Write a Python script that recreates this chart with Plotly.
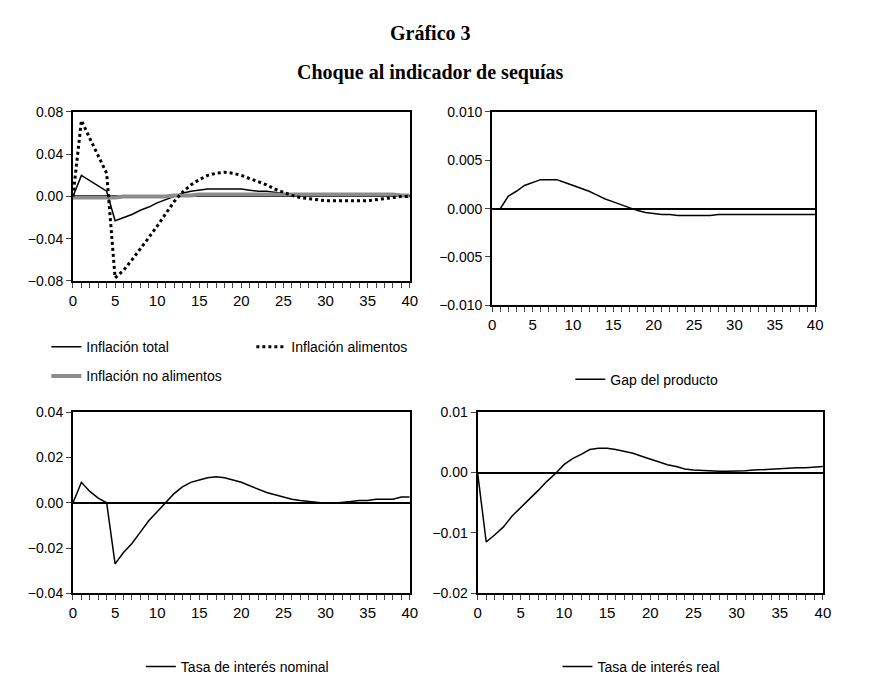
import plotly.graph_objects as go

periods = list(range(41))
infl_total = [0, 0.020, 0.015, 0.010, 0.005, -0.023, -0.020, -0.017, -0.013, -0.010, -0.006, -0.003, 0.000, 0.003, 0.005,
              0.006, 0.007, 0.007, 0.007, 0.007, 0.007, 0.006, 0.005, 0.005, 0.004, 0.003, 0.002, 0.002, 0.001, 0.001,
              0.001, 0.001, 0.001, 0.001, 0.001, 0.001, 0.001, 0.001, 0.001, 0.001, 0.001]
infl_alimentos = [0, 0.072, 0.055, 0.038, 0.022, -0.077, -0.070, -0.060, -0.050, -0.039, -0.028, -0.017, -0.005, 0.004,
                  0.011, 0.016, 0.020, 0.022, 0.023, 0.022, 0.020, 0.017, 0.014, 0.011, 0.007, 0.004, 0.001, -0.001,
                  -0.002, -0.003, -0.004, -0.004, -0.004, -0.004, -0.004, -0.004, -0.003, -0.002, -0.001, 0.000, 0.000]
infl_no_alimentos = [-0.001] * 6 + [0.0] * 6 + [0.001] * 3 + [0.002] * 24 + [0.001] * 2
gap_producto = [0, 0, 0.0013, 0.0018, 0.0024, 0.0027, 0.0030, 0.0030, 0.0030, 0.0027, 0.0024, 0.0021, 0.0018, 0.0014,
                0.0010, 0.0007, 0.0004, 0.0001, -0.0002, -0.0004, -0.0005, -0.0006, -0.0006, -0.0007, -0.0007, -0.0007,
                -0.0007, -0.0007, -0.0006, -0.0006, -0.0006, -0.0006, -0.0006, -0.0006, -0.0006, -0.0006, -0.0006,
                -0.0006, -0.0006, -0.0006, -0.0006]
tasa_nominal = [0, 0.009, 0.005, 0.002, 0.000, -0.027, -0.022, -0.018, -0.013, -0.008, -0.004, 0.000, 0.004, 0.007,
                0.009, 0.010, 0.011, 0.0115, 0.011, 0.010, 0.009, 0.0075, 0.006, 0.0045, 0.0035, 0.0025, 0.0015, 0.001,
                0.0005, 0.0, -0.0002, -0.0002, 0.0, 0.0005, 0.001, 0.001, 0.0015, 0.0015, 0.0015, 0.0025, 0.0025]
tasa_real = [0, -0.0115, -0.0103, -0.0090, -0.0072, -0.0058, -0.0045, -0.0030, -0.0015, -0.0002, 0.0013, 0.0023,
             0.0030, 0.0038, 0.0040, 0.0040, 0.0038, 0.0035, 0.0032, 0.0027, 0.0022, 0.0018, 0.0013, 0.0010, 0.0006,
             0.0004, 0.0003, 0.0002, 0.0002, 0.0002, 0.0002, 0.0003, 0.0004, 0.0005, 0.0006, 0.0007, 0.0007, 0.0008,
             0.0008, 0.0009, 0.0010]
x_ticktext = [str(i) if i % 5 == 0 else "" for i in periods]

FONT = "Liberation Sans"
fig = go.Figure()

panels = [  # (xaxis, yaxis, xdomain, ydomain, yrange, dtick, fmt)
    ("x", "y", [0.071, 0.463], [0.608, 0.858], [-0.08, 0.08], 0.04, ".2f"),
    ("x2", "y2", [0.559, 0.935], [0.572, 0.858], [-0.01, 0.01], 0.005, ".3f"),
    ("x3", "y3", [0.071, 0.463], [0.146, 0.414], [-0.04, 0.04], 0.02, ".2f"),
    ("x4", "y4", [0.542, 0.944], [0.146, 0.414], [-0.02, 0.01], 0.01, ".2f"),
]
series = [
    (infl_total, "Inflación total", 0, dict(color="black", width=1.5), "legend"),
    (infl_no_alimentos, "Inflación no alimentos", 0, dict(color="#8c8c8c", width=4), "legend5"),
    (infl_alimentos, "Inflación alimentos", 0, dict(color="black", width=3, dash="dot"), "legend"),
    (gap_producto, "Gap del producto", 1, dict(color="black", width=1.5), "legend2"),
    (tasa_nominal, "Tasa de interés nominal", 2, dict(color="black", width=1.5), "legend3"),
    (tasa_real, "Tasa de interés real", 3, dict(color="black", width=1.5), "legend4"),
]
for values, name, p, line, leg in series:
    fig.add_trace(go.Scatter(x=periods, y=values, name=name, mode="lines", line=line,
                             xaxis=panels[p][0], yaxis=panels[p][1], legend=leg))

for i, (xa, ya, xd, yd, yr, dt, fmt) in enumerate(panels):
    sfx = "" if i == 0 else str(i + 1)
    fig.layout["xaxis" + sfx] = dict(domain=xd, range=[0, 40], anchor=ya, tickvals=periods, ticktext=x_ticktext,
                                     ticks="outside", ticklen=5, showgrid=False, zeroline=False,
                                     tickfont=dict(size=15),
                                     showline=True, mirror=True, linecolor="black", linewidth=2)
    fig.layout["yaxis" + sfx] = dict(domain=yd, range=yr, dtick=dt, tickformat=fmt, anchor=xa,
                                     ticks="outside", ticklen=5, showgrid=False, zeroline=True,
                                     zerolinecolor="black", zerolinewidth=1.5, tickfont=dict(size=14),
                                     showline=True, mirror=True, linecolor="black", linewidth=2)

leg_style = dict(orientation="h", bgcolor="rgba(0,0,0,0)", font=dict(size=14), xanchor="left", yanchor="middle")
fig.update_layout(
    width=871, height=692, margin=dict(l=0, r=0, t=0, b=0),
    plot_bgcolor="white", paper_bgcolor="white",
    font=dict(family=FONT, size=14, color="black"),
    legend=dict(x=0.04, y=0.51, entrywidth=160, traceorder="normal", **leg_style),
    legend5=dict(x=0.04, y=0.467, **leg_style),
    legend2=dict(x=0.65, y=0.462, **leg_style),
    legend3=dict(x=0.15, y=0.037, **leg_style),
    legend4=dict(x=0.635, y=0.037, **leg_style),
    annotations=[
        dict(text="<b>Gráfico 3</b>", x=0.487, y=0.975, xref="paper", yref="paper", showarrow=False,
             yanchor="middle", font=dict(family="Liberation Serif", size=20)),
        dict(text="<b>Choque al indicador de sequías</b>", x=0.487, y=0.917, xref="paper", yref="paper",
             showarrow=False, yanchor="middle", font=dict(family="Liberation Serif", size=20)),
    ],
)

fig.write_html("out.html")
